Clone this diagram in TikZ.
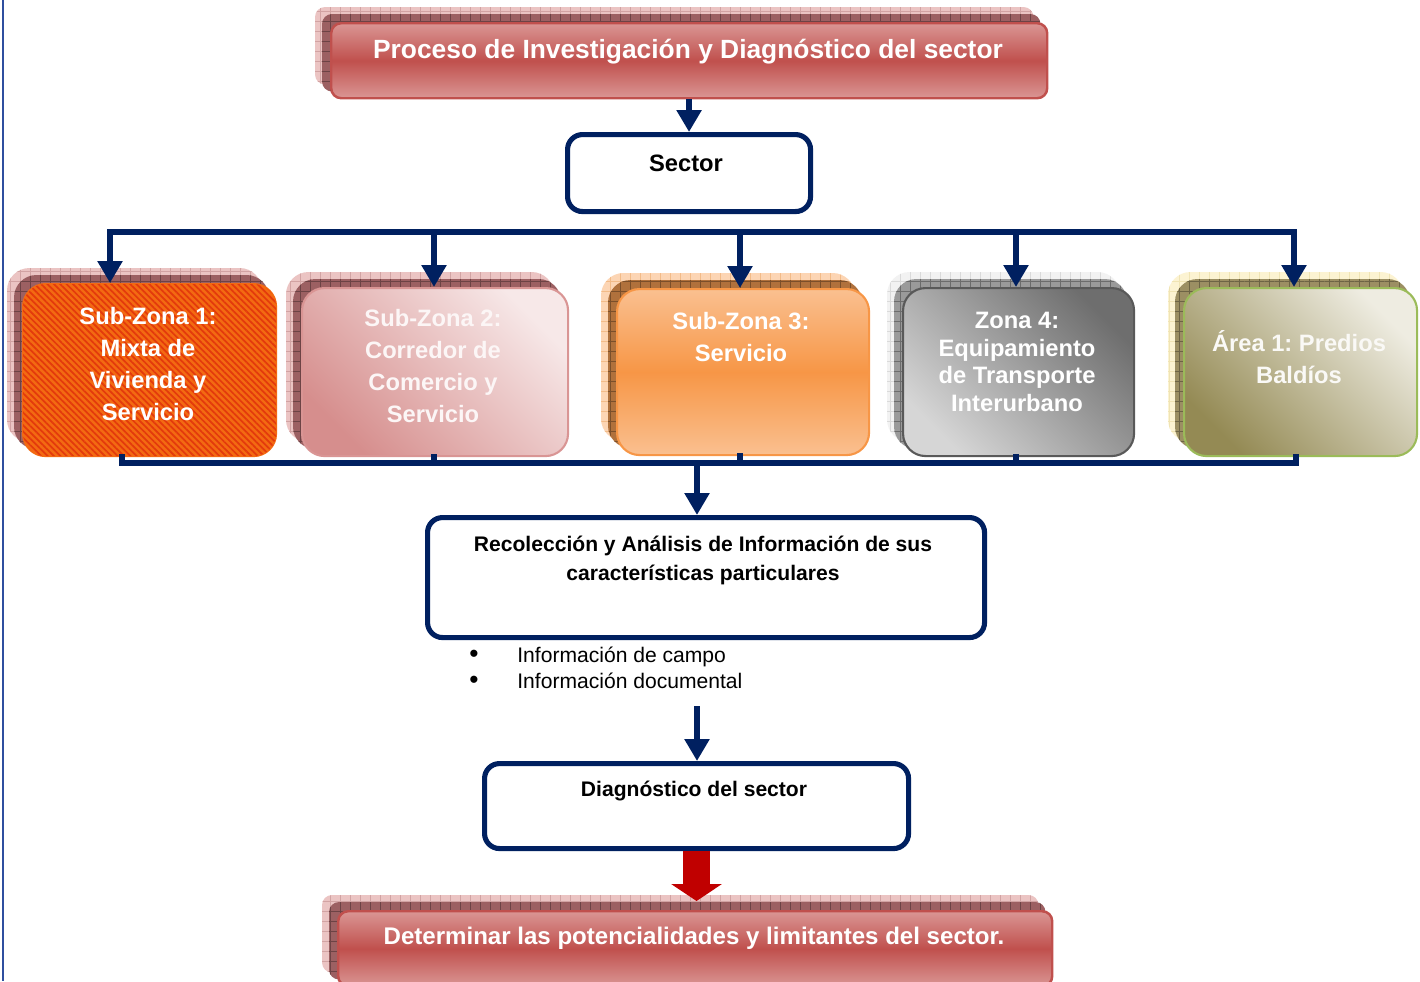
\documentclass[tikz,border=0pt]{standalone}
\usepackage{fontspec}
\setmainfont{Liberation Sans}
\usepackage{tikz}
\usetikzlibrary{positioning,arrows.meta,calc,backgrounds,patterns.meta}
\frenchspacing
\definecolor{cNavy}{HTML}{002060}
\definecolor{cRule}{HTML}{2F4F9F}
\definecolor{cBan}{HTML}{C0504D}
\definecolor{cBanL}{HTML}{DA9694}
\definecolor{cRed}{HTML}{C00000}
% shadow families: A light layer, B dark layer, G grid
\definecolor{cPinkA}{HTML}{EBC4C3}
\definecolor{cPinkB}{HTML}{9C6062}
\definecolor{cPinkG}{HTML}{D2A3A3}
\definecolor{cOrA}{HTML}{FCD5B4}
\definecolor{cOrB}{HTML}{B0713C}
\definecolor{cOrG}{HTML}{F2BB88}
\definecolor{cGrA}{HTML}{F2F2F2}
\definecolor{cGrB}{HTML}{9A9A9A}
\definecolor{cGrG}{HTML}{DADADA}
\definecolor{cOlA}{HTML}{FCF3D2}
\definecolor{cOlB}{HTML}{9C8F63}
\definecolor{cOlG}{HTML}{F0E4B4}
% zone fills
\definecolor{cZa}{HTML}{F36A12}
\definecolor{cZas}{HTML}{E33A0C}
\definecolor{cZbL}{HTML}{F7E8E8}
\definecolor{cZbD}{HTML}{D68E8D}
\definecolor{cZbE}{HTML}{D99594}
\definecolor{cZcL}{HTML}{FAC090}
\definecolor{cZc}{HTML}{F79646}
\definecolor{cZdD}{HTML}{6E6E6E}
\definecolor{cZdL}{HTML}{D6D6D6}
\definecolor{cZdE}{HTML}{595959}
\definecolor{cZeL}{HTML}{EEECE1}
\definecolor{cZeD}{HTML}{948A54}
\definecolor{cZeE}{HTML}{9BBB59}
\tikzset{
  dg/size/.style 2 args={minimum width=#1*0.02cm, minimum height=#2*0.02cm},
  dg/banner/.style ={anchor=north west, draw=cBan, line width=1.4pt,
                     rounded corners=0.2cm, top color=cBanL, bottom color=cBanL,
                     middle color=cBan},
  dg/bantext/.style={text=white, font=\bfseries\fontsize{15}{18}\selectfont},
  dg/flow/.style   ={anchor=north west, draw=cNavy, line width=2.9pt,
                     rounded corners=0.3cm, fill=white},
  dg/flowtext/.style={align=center, font=\bfseries\fontsize{12}{16.5}\selectfont},
  dg/zone/.style   ={anchor=north west, line width=1.2pt, rounded corners=0.45cm},
  dg/zonetext/.style={align=center, text=white,
                      font=\bfseries\fontsize{13.5}{18.2}\selectfont},
  dg/list/.style   ={align=left, inner sep=0pt, font=\fontsize{12}{14.8}\selectfont},
  dg/bus/.style    ={cNavy, line width=3.4pt, line cap=rect},
  dg/arr/.style    ={cNavy, line width=3.4pt,
                     -{Triangle[length=0.44cm, width=0.48cm]}},
  dg/redarr/.style ={cRed, line width=0.54cm,
                     -{Triangle[length=0.34cm, width=1.0cm]}}
}
% stacked shadow behind a box: node, light, dark, grid, radius
\newcommand{\stackshade}[5]{%
  \begin{scope}[on background layer]
    \path[fill=#2, rounded corners=#5,
          postaction={pattern={Hatch[angle=0, distance=0.2cm, line width=0.3pt]},
                      pattern color=#4}]
      ([shift={(-15,-15)}]#1.north west) rectangle ([shift={(-15,-15)}]#1.south east);
    \path[fill=#3, rounded corners=#5,
          postaction={pattern={Hatch[angle=0, distance=0.2cm, line width=0.3pt]},
                      pattern color=#3!70!black}]
      ([shift={(-8,-8)}]#1.north west) rectangle ([shift={(-8,-8)}]#1.south east);
  \end{scope}}
\newcommand{\bigdot}{\makebox[0.96cm][l]{\fontsize{15}{15}\selectfont\textbullet}}

\begin{document}
\begin{tikzpicture}[x=0.02cm, y=-0.02cm]
  \useasboundingbox (0,0) rectangle (1420,981);
  % page rule
  \draw[cRule, line width=1.2pt] (3,0) -- (3,981);

  % --- head banner and sector ---
  \node[dg/banner, dg/size={716}{75}] (top) at (330,22) {};
  \node[dg/bantext] (topT) at (688,52) {Proceso de Investigación y Diagnóstico del sector};
  \stackshade{top}{cPinkA}{cPinkB}{cPinkG}{0.2cm}
  \node[dg/flow, dg/size={243}{77}] (sector) at (565,132) {};
  \node[dg/flowtext, font=\bfseries\fontsize{13.5}{16}\selectfont] (sectorT) at (686,163) {Sector};

  % --- zones ---
  \node[dg/zone, dg/size={253}{172}, draw=cZa, fill=cZa,
        postaction={pattern={Lines[angle=-45, distance=0.09cm, line width=0.035cm]},
                    pattern color=cZas}] (z1) at (22,283) {};
  \node[dg/zone, dg/size={266}{168}, draw=cZbE, top color=cZbL, bottom color=cZbD,
        shading angle=-45] (z2) at (301,287) {};
  \node[dg/zone, dg/size={252}{166}, draw=cZc, top color=cZcL, bottom color=cZcL,
        middle color=cZc] (z3) at (616,288) {};
  \node[dg/zone, dg/size={231}{168}, draw=cZdE, top color=cZdD, bottom color=cZdL,
        shading angle=-45] (z4) at (902,287) {};
  \node[dg/zone, dg/size={233}{168}, draw=cZeE, top color=cZeL, bottom color=cZeD,
        shading angle=-45] (z5) at (1183,287) {};
  \stackshade{z1}{cPinkA}{cPinkB}{cPinkG}{0.45cm}
  \stackshade{z2}{cPinkA}{cPinkB}{cPinkG}{0.45cm}
  \stackshade{z3}{cOrA}{cOrB}{cOrG}{0.45cm}
  \stackshade{z4}{cGrA}{cGrB}{cGrG}{0.45cm}
  \stackshade{z5}{cOlA}{cOlB}{cOlG}{0.45cm}
  \node[dg/zonetext] (z1T) at (148,364) {Sub-Zona 1:\\Mixta de\\Vivienda y\\Servicio};
  \node[dg/zonetext, text=white!92!cZbD] (z2T) at (433,366) {Sub-Zona 2:\\Corredor de\\Comercio y\\Servicio};
  \node[dg/zonetext] (z3T) at (741,337) {Sub-Zona 3:\\Servicio};
  \node[dg/zonetext, font=\bfseries\fontsize{13.5}{15.7}\selectfont] (z4T) at (1017,362)
       {Zona 4:\\Equipamiento\\de Transporte\\Interurbano};
  \node[dg/zonetext, text=white!95!cZeD] (z5T) at (1299,357) {Área 1: Predios\\Baldíos};

  % --- distribution bus ---
  \foreach \n/\x in {1/110, 2/434, 3/740, 4/1016, 5/1294} {
    \coordinate (t\n) at (\x,232);
  }
  \draw[dg/bus] (t1) -- (t5);
  \foreach \n in {1,...,5} {
    \draw[dg/arr] (t\n) -- (t\n |- z\n.north);
  }
  \draw[dg/arr] (top.south -| sector.north) -- (sector.north);

  % --- collecting bus ---
  \foreach \n/\x in {1/122, 2/434, 3/740, 4/1016, 5/1296} {
    \coordinate (b\n) at (\x,463);
    \draw[dg/bus] (b\n |- z\n.south) -- (b\n);
  }
  \draw[dg/bus] (b1) -- (b5);

  % --- collection and diagnosis ---
  \node[dg/flow, dg/size={557}{120}] (rec) at (425,515) {};
  \node[dg/flowtext] (recT) at (703,560)
       {Recolección y Análisis de Información de sus\\características particulares};
  \coordinate (bm) at (697,463);
  \draw[dg/arr] (bm) -- (bm |- rec.north);
  \node[dg/list, anchor=west] (facts) at (469,668)
       {\bigdot Información de campo\\ \bigdot Información documental};
  \node[dg/flow, dg/size={424}{85}] (diag) at (482,761) {};
  \node[dg/flowtext] (diagT) at (694,791) {Diagnóstico del sector};
  \coordinate (fm) at (697,706);
  \draw[dg/arr] (fm) -- (fm |- diag.north);

  % --- closing banner ---
  \node[dg/banner, dg/size={714}{75}] (bottom) at (337,910) {};
  \node[dg/bantext, font=\bfseries\fontsize{13.7}{16}\selectfont] (bottomT) at (694,938)
       {Determinar las potencialidades y limitantes del sector.};
  \stackshade{bottom}{cPinkA}{cPinkB}{cPinkG}{0.2cm}
  \coordinate (rt) at (695,901);
  \draw[dg/redarr] (diag.south) -- (diag.south |- rt);
\end{tikzpicture}
\end{document}
